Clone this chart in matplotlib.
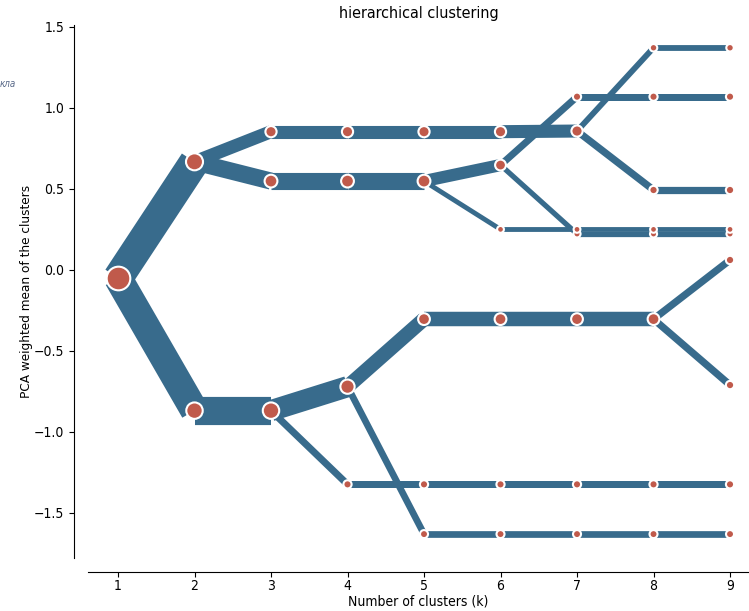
import matplotlib
matplotlib.use('Agg')
import matplotlib.pyplot as plt

# cluster means (PCA weighted) for each k, ordered as drawn
k_values = [1, 2, 3, 4, 5, 6, 7, 8, 9]
cluster_means = [
    [-0.052],
    [0.665, -0.871],
    [0.851, 0.546, -0.871],
    [0.851, 0.546, -0.723, -1.326],
    [0.851, 0.546, -0.306, -1.326, -1.633],
    [0.851, 0.645, 0.248, -0.306, -1.326, -1.633],
    [1.067, 0.855, 0.220, 0.248, -0.306, -1.326, -1.633],
    [1.369, 1.067, 0.491, 0.220, 0.248, -0.306, -1.326, -1.633],
    [1.369, 1.067, 0.491, 0.220, 0.248, 0.059, -0.713, -1.326, -1.633],
]
# share of observations in each cluster
cluster_shares = [
    [1.0],
    [0.517, 0.483],
    [0.224, 0.293, 0.483],
    [0.224, 0.293, 0.363, 0.120],
    [0.224, 0.293, 0.248, 0.120, 0.115],
    [0.224, 0.210, 0.083, 0.248, 0.120, 0.115],
    [0.120, 0.224, 0.090, 0.083, 0.248, 0.120, 0.115],
    [0.100, 0.120, 0.124, 0.090, 0.083, 0.248, 0.120, 0.115],
    [0.100, 0.120, 0.124, 0.090, 0.083, 0.124, 0.124, 0.120, 0.115],
]
# index of the parent cluster at k-1
parent_index = [
    [],
    [0, 0],
    [0, 0, 1],
    [0, 1, 2, 2],
    [0, 1, 2, 3, 2],
    [0, 1, 1, 2, 3, 4],
    [1, 0, 1, 2, 3, 4, 5],
    [1, 0, 1, 2, 3, 4, 5, 6],
    [0, 1, 2, 3, 4, 5, 5, 6, 7],
]
y_ticks = [-1.5, -1.0, -0.5, 0.0, 0.5, 1.0, 1.5]

LINE_COLOR = '#386b8c'
DOT_COLOR = '#c05a4b'

# narrow glyphs like the reference
plt.rcParams['font.family'] = 'DejaVu Sans'
plt.rcParams['font.stretch'] = 'condensed'

fig = plt.figure(figsize=(7.49, 6.11), dpi=100)
ax = fig.add_axes([0.1175, 0.0869, 0.8825, 0.8723])

for i in range(1, len(k_values)):
    k = k_values[i]
    for mean, share, p in zip(cluster_means[i], cluster_shares[i], parent_index[i]):
        ax.plot([k - 1, k], [cluster_means[i - 1][p], mean], color=LINE_COLOR,
                linewidth=share * 42, solid_capstyle='butt', zorder=1)

for k, means, shares in zip(k_values, cluster_means, cluster_shares):
    ax.scatter([k] * len(means), means, s=[s * 290 for s in shares], color=DOT_COLOR,
               edgecolor='w', linewidths=1.5, zorder=2)

ax.set_xlim(0.608, 9.248)
ax.set_ylim(-1.78, 1.51)
ax.set_xticks(k_values)
ax.set_yticks(y_ticks)
ax.tick_params(labelsize=10)
ax.tick_params(axis='x', pad=2)
ax.spines['top'].set_visible(False)
ax.spines['right'].set_visible(False)
ax.spines['left'].set_position(('outward', 10))
ax.spines['bottom'].set_position(('outward', 10))
ax.set_title('hierarchical clustering', fontsize=11.5, pad=5)
ax.set_xlabel('Number of clusters (k)', fontsize=10, labelpad=0.5)
ax.set_ylabel('PCA weighted mean of the clusters', fontsize=9.7, labelpad=1)

fig.text(0.0, 0.858, 'кла', fontsize=7, style='italic', color='#5b6b8a')

fig.savefig('out.png', dpi=100)
